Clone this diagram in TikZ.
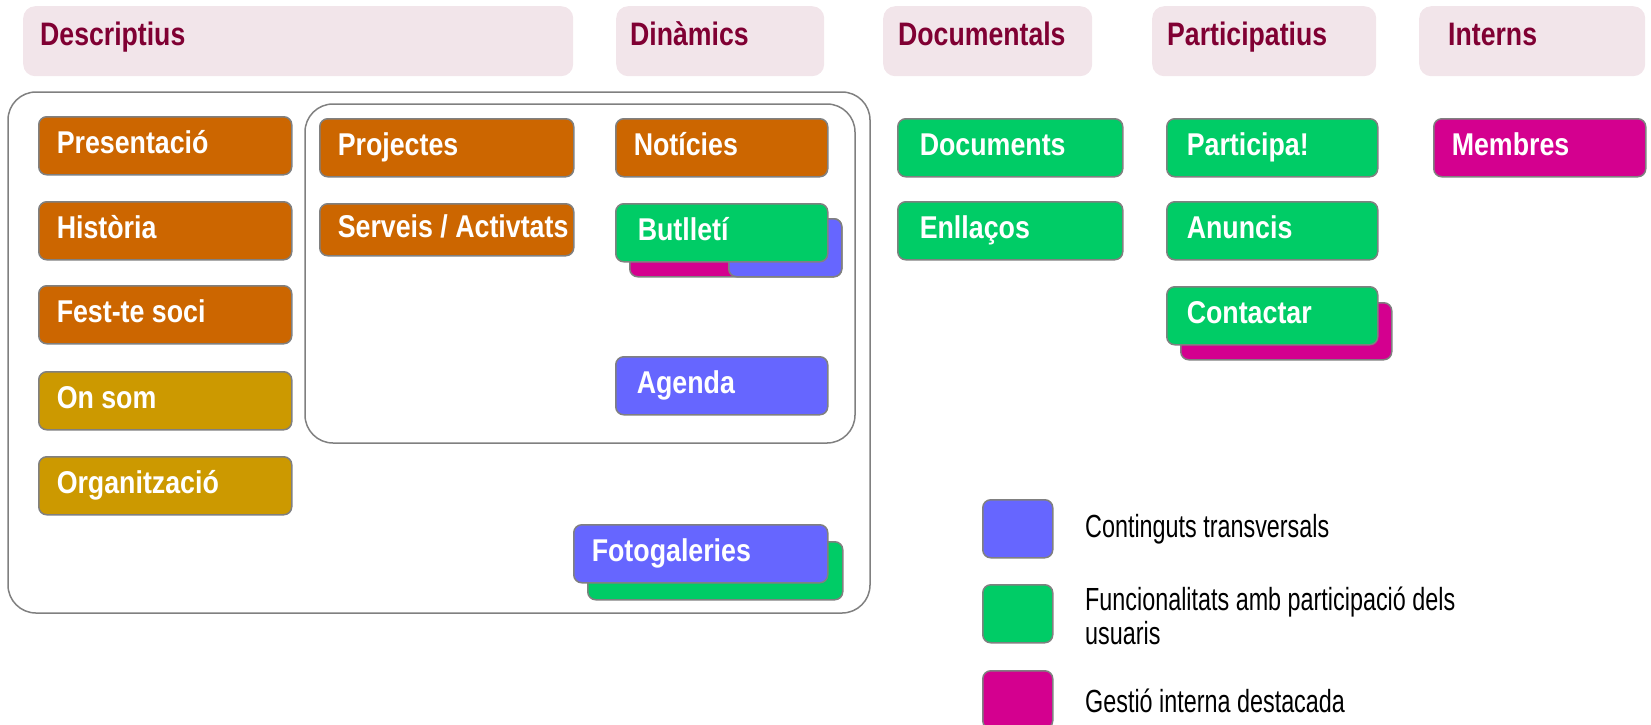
\documentclass[tikz,border=0pt]{standalone}
\usepackage{fontspec}
\setmainfont{Liberation Sans}
\newfontfamily\boxfont[FakeStretch=0.85]{Liberation Sans}
\newfontfamily\hdrfont[FakeStretch=0.82]{Liberation Sans}
\newfontfamily\legfont[FakeStretch=0.73]{Liberation Sans}
\definecolor{hdrfill}{HTML}{F2E5EA}
\definecolor{hdrtext}{HTML}{800033}
\definecolor{cOrange}{HTML}{CC6600}
\definecolor{cGold}{HTML}{CC9900}
\definecolor{cGreen}{HTML}{00CC66}
\definecolor{cBlue}{HTML}{6666FF}
\definecolor{cMag}{HTML}{D4008F}
\definecolor{cLine}{HTML}{808080}
\tikzset{
  bxs/.style={draw=cLine, line width=1.5pt, rounded corners=8pt, anchor=north west,
    inner xsep=18pt, inner ysep=0pt, text=white,
    font=\boxfont\bfseries\fontsize{31.5}{36}\selectfont, text height=23pt, text depth=7pt},
  hdr/.style={fill=hdrfill, rounded corners=12pt, anchor=north west, inner ysep=0pt,
    minimum height=70pt, text=hdrtext,
    font=\hdrfont\bfseries\fontsize{32.5}{36}\selectfont, text height=22pt, text depth=14pt},
  grp/.style={draw=cLine, line width=1.5pt, rounded corners=28pt},
  legsq/.style={draw=cLine, line width=1.5pt, rounded corners=8pt, anchor=north west,
    minimum width=70pt, minimum height=58pt, inner sep=0pt},
  legtxt/.style={anchor=west, inner sep=0pt, align=left,
    font=\legfont\fontsize{32}{34}\selectfont, text=black}
}
\newcommand\bxnode[7]{\node[bxs, fill=#2, minimum width=#5pt, minimum height=#6pt] (#1) at (#3,#4) {\makebox[\dimexpr#5pt-36pt\relax][l]{#7}};}
\newcommand\hdnode[5]{\node[hdr, minimum width=#3pt, inner xsep=#4pt] (#1) at (#2,6) {\makebox[\dimexpr#3pt-#4pt-#4pt\relax][l]{#5}};}
\begin{document}
\begin{tikzpicture}[x=1pt,y=-1pt]
\useasboundingbox (0,0) rectangle (1651,724);
\clip (0,0) rectangle (1651,724);
% headers
\hdnode{hDesc}{23}{550}{17}{Descriptius}
\hdnode{hDin}{616}{208}{14}{Dinàmics}
\hdnode{hDoc}{883}{209}{15}{Documentals}
\hdnode{hPart}{1152}{224}{15}{Participatius}
\hdnode{hInt}{1419}{226}{29}{Interns}
% group frames
\draw[grp] (8,92) rectangle (870,613);
\draw[grp] (305,104) rectangle (855,443);
% descriptius
\bxnode{pres}{cOrange}{38}{116}{253}{58}{Presentació}
\bxnode{hist}{cOrange}{38}{201}{253}{58}{Història}
\bxnode{fest}{cOrange}{38}{285}{253}{58}{Fest-te soci}
\bxnode{onsom}{cGold}{38}{371}{253}{58}{On som}
\bxnode{org}{cGold}{38}{456}{253}{58}{Organització}
\bxnode{proj}{cOrange}{319}{118}{254}{58}{Projectes}
\bxnode{serv}{cOrange}{319}{203}{254}{52}{Serveis / Activtats}
% dinamics
\bxnode{noti}{cOrange}{615}{118}{212}{58}{Notícies}
\bxnode{butM}{cMag}{629}{218}{212}{58}{}
\bxnode{butB}{cBlue}{728}{218}{113}{58}{}
\bxnode{butl}{cGreen}{615}{203}{212}{58}{\hspace*{4pt}Butlletí}
\bxnode{agen}{cBlue}{615}{356}{212}{58}{\hspace*{3pt}Agenda}
\bxnode{fotoG}{cGreen}{587}{541}{255}{58}{}
\bxnode{foto}{cBlue}{573}{524}{254}{58}{Fotogaleries}
% documentals
\bxnode{docs}{cGreen}{897}{118}{225}{58}{\hspace*{4pt}Documents}
\bxnode{enll}{cGreen}{897}{201}{225}{58}{\hspace*{4pt}Enllaços}
% participatius
\bxnode{part}{cGreen}{1166}{118}{211}{58}{\hspace*{2pt}Participa!}
\bxnode{anun}{cGreen}{1166}{201}{211}{58}{\hspace*{2pt}Anuncis}
\bxnode{contM}{cMag}{1180}{302}{211}{57}{}
\bxnode{cont}{cGreen}{1166}{286}{211}{58}{\hspace*{2pt}Contactar}
% interns
\bxnode{memb}{cMag}{1433}{118}{212}{58}{Membres}
% legend
\node[legsq, fill=cBlue] (lgA) at (982,499) {};
\node[legsq, fill=cGreen] (lgB) at (982,584) {};
\node[legsq, fill=cMag] (lgC) at (982,670) {};
\node[legtxt] (lgAt) at (1085,529) {Continguts transversals};
\node[legtxt] (lgBt) at (1085,616) {Funcionalitats amb participació dels\\usuaris};
\node[legtxt] (lgCt) at (1085,701) {Gestió interna destacada};
\end{tikzpicture}
\end{document}
